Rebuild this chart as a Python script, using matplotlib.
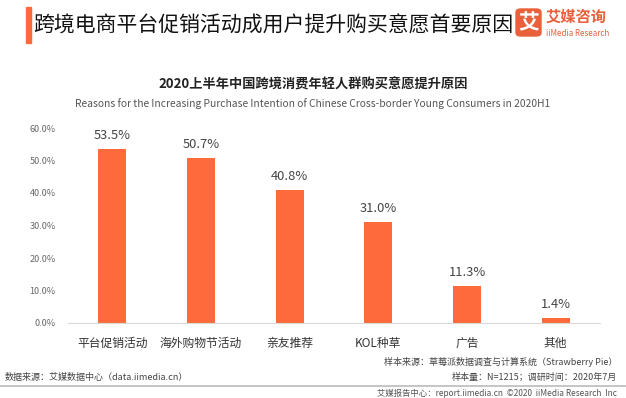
import matplotlib
matplotlib.use("Agg")
import matplotlib.pyplot as plt
from matplotlib.patches import Rectangle, FancyBboxPatch
from matplotlib.lines import Line2D

plt.rcParams['font.family'] = ['Noto Sans CJK SC', 'DejaVu Sans']

categories = ['平台促销活动', '海外购物节活动', '亲友推荐', 'KOL种草', '广告', '其他']
values = [53.5, 50.7, 40.8, 31.0, 11.3, 1.4]
yticks = [0, 10, 20, 30, 40, 50, 60]

W, H = 626, 398
fig = plt.figure(figsize=(W / 100, H / 100), dpi=100)

def px(x, y):
    return x / W, 1 - y / H

ORANGE = '#FF6A3D'

# axes: left 68, right 600, top 128 (60%), bottom 323 (0%)
l, r, t, b = 68, 600, 128, 323
ax = fig.add_axes([l / W, 1 - b / H, (r - l) / W, (b - t) / H])
x = list(range(len(categories)))
ax.bar(x, values, width=0.316, color=ORANGE)
ax.set_xlim(-0.5, len(categories) - 0.5)
ax.set_ylim(0, 60)
ax.set_yticks(yticks)
ax.set_yticklabels([f'{v:.1f}%' for v in yticks], fontsize=6.5, color='#666666')
ax.set_xticks(x)
ax.set_xticklabels(categories, fontsize=8.5, color='#333333')
ax.tick_params(axis='both', length=0)
ax.tick_params(axis='y', pad=9)
ax.tick_params(axis='x', pad=10)
for s in ['top', 'right', 'left']:
    ax.spines[s].set_visible(False)
ax.spines['bottom'].set_color('#d9d9d9')
ax.spines['bottom'].set_linewidth(0.8)
for xi, v in zip(x, values):
    ax.text(xi, v + 2.2, f'{v:.1f}%', ha='center', va='bottom', fontsize=9.3, color='#444444')

# header
fig.patches.append(Rectangle(px(26, 43), 5 / W, 36 / H, transform=fig.transFigure,
                             color=ORANGE, zorder=5))
fig.text(*px(33, 26), '跨境电商平台促销活动成用户提升购买意愿首要原因', fontsize=15,
         fontweight='medium', color='#111111', va='center', ha='left')
# logo
fig.patches.append(FancyBboxPatch(px(516, 36), 25 / W, 27 / H, boxstyle='round,pad=0,rounding_size=0.008',
                                  transform=fig.transFigure, color='#E8613A', zorder=5))
fig.text(*px(528.5, 22.5), '艾', fontsize=15, fontweight='bold', color='white',
         ha='center', va='center', zorder=6)
fig.text(*px(546, 17), '艾媒咨询', fontsize=11, fontweight='bold', color='#E8613A',
         ha='left', va='center')
fig.text(*px(546, 33), 'iiMedia Research', fontsize=5.8, color='#E8613A',
         ha='left', va='center')

# chart titles
fig.text(*px(313, 85), '2020上半年中国跨境消费年轻人群购买意愿提升原因', fontsize=9.5,
         fontweight='bold', color='#222222', ha='center', va='center')
fig.text(*px(313, 104), 'Reasons for the Increasing Purchase Intention of Chinese Cross-border Young Consumers in 2020H1',
         fontsize=7.4, color='#555555', ha='center', va='center')

# footer
fig.text(*px(617, 362), '样本来源：草莓派数据调查与计算系统（Strawberry Pie）', fontsize=6.5,
         color='#444444', ha='right', va='center')
fig.text(*px(617, 377), '样本量：N=1215；调研时间：2020年7月', fontsize=6.5,
         color='#444444', ha='right', va='center')
fig.text(*px(5, 377), '数据来源：艾媒数据中心（data.iimedia.cn）', fontsize=6.5,
         color='#444444', ha='left', va='center')
fig.lines.append(Line2D([0, 1], [1 - 386 / H] * 2, transform=fig.transFigure,
                        color='#bbbbbb', linewidth=1.2))
fig.text(*px(617, 393), '艾媒报告中心：report.iimedia.cn  ©2020  iiMedia Research  Inc', fontsize=6.0,
         color='#555555', ha='right', va='center')

fig.savefig('out.png', dpi=100)
